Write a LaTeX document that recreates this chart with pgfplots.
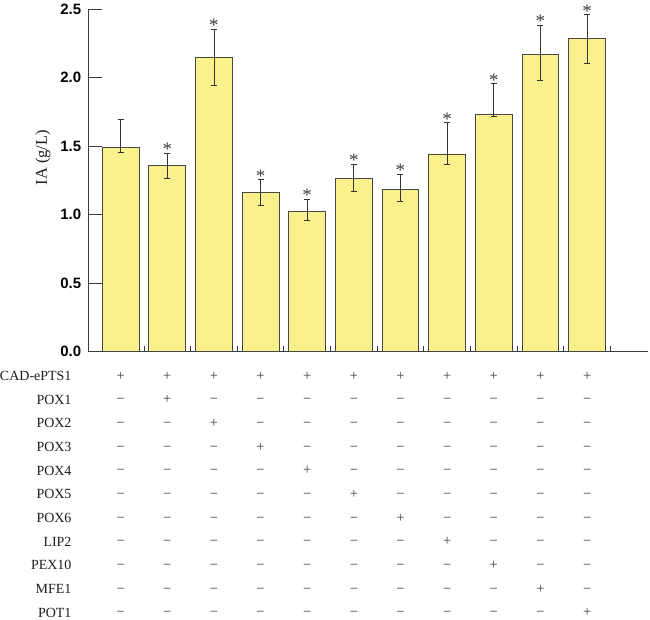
\documentclass[border=0pt]{standalone}
\usepackage{fontspec}
\setmainfont{Liberation Serif}
\newfontfamily\tickfont{Liberation Sans}
\usepackage{pgfplots}
\usepackage{pgfplotstable}
\pgfplotsset{compat=1.18}
\definecolor{barfill}{RGB}{250,241,140}
\definecolor{edge}{RGB}{70,70,70}
\definecolor{axc}{RGB}{60,60,60}
\definecolor{txt}{RGB}{30,30,30}
\definecolor{sym}{RGB}{60,60,60}

\pgfplotstableread{
x y ep em
0 1.488 0.209 0.034
1 1.357 0.092 0.097
2 2.150 0.204 0.205
3 1.160 0.095 0.092
4 1.026 0.086 0.068
5 1.262 0.107 0.090
6 1.182 0.112 0.090
7 1.442 0.228 0.075
8 1.732 0.223 0.018
9 2.171 0.212 0.189
10 2.283 0.175 0.179
}\data

\pgfplotstableread{
x s
1 1.476
2 2.381
3 1.282
4 1.139
5 1.396
6 1.321
7 1.697
8 1.982
9 2.410
10 2.485
}\stars

\begin{document}
\begin{tikzpicture}
\path (0,0) rectangle (650pt,-620pt);
\begin{axis}[
  scale only axis, width=560pt, height=343pt,
  at={(88pt,-352pt)}, anchor=south west,
  xmin=-0.685, xmax=11.306, ymin=0, ymax=2.5,
  axis x line*=bottom, axis y line*=left,
  axis line style={-, draw=axc, line width=0.8pt},
  clip=false,
  ytick={0,0.5,1,1.5,2,2.5},
  yticklabel style={font=\tickfont\bfseries\fontsize{15}{15}\selectfont, text=black, xshift=-4pt,
    /pgf/number format/.cd, fixed, fixed zerofill, precision=1, assume math mode=true},
  xtick={0.5,1.5,2.5,3.5,4.5,5.5,6.5,7.5,8.5,9.5,10.5},
  xticklabels={},
  tick align=inside,
  major tick length=13pt,
  tick style={draw=axc, line width=0.8pt},
  xtick style={/pgfplots/major tick length=6pt},
  ylabel={IA (g/L)},
  every axis y label/.style={at={(axis description cs:-0.068,0.566)}, rotate=90, anchor=south, inner sep=0pt, font=\fontsize{16.5}{16.5}\selectfont, text=txt},
]
\addplot[ybar, bar width=0.79, fill=barfill, draw=edge, line width=0.9pt,
  error bars/.cd, y dir=both, y explicit,
  error bar style={draw=black!80, line width=0.8pt},
  error mark options={rotate=90, mark size=3pt, draw=black!80, line width=0.9pt}]
  table[x=x, y=y, y error plus=ep, y error minus=em]{\data};
\addplot[only marks, mark=text, text mark={*}, text mark as node=true,
  text mark style={font=\fontsize{19}{19}\selectfont, text=sym, inner sep=0pt}]
  table[x=x, y=s]{\stars};
\pgfplotsextra{
  \foreach \lab [count=\r from 0] in {CAD-ePTS1,POX1,POX2,POX3,POX4,POX5,POX6,LIP2,PEX10,MFE1,POT1}{
    \node[anchor=base east, inner sep=0pt, font=\fontsize{14}{14}\selectfont, text=txt]
      at (axis cs:-0.685,0) [xshift=-17pt, yshift={-29pt-23.7pt*\r}] {\lab};
    \foreach \c in {0,...,10}{
      \node[anchor=base, inner sep=0pt, font=\fontsize{14.5}{14.5}\selectfont, text=sym]
        at (axis cs:\c,0) [yshift={-28.5pt-23.7pt*\r}] {\ifnum\r=0 +\else\ifnum\r=\c +\else −\fi\fi};
    }
  }
}
\end{axis}
\end{tikzpicture}
\end{document}
